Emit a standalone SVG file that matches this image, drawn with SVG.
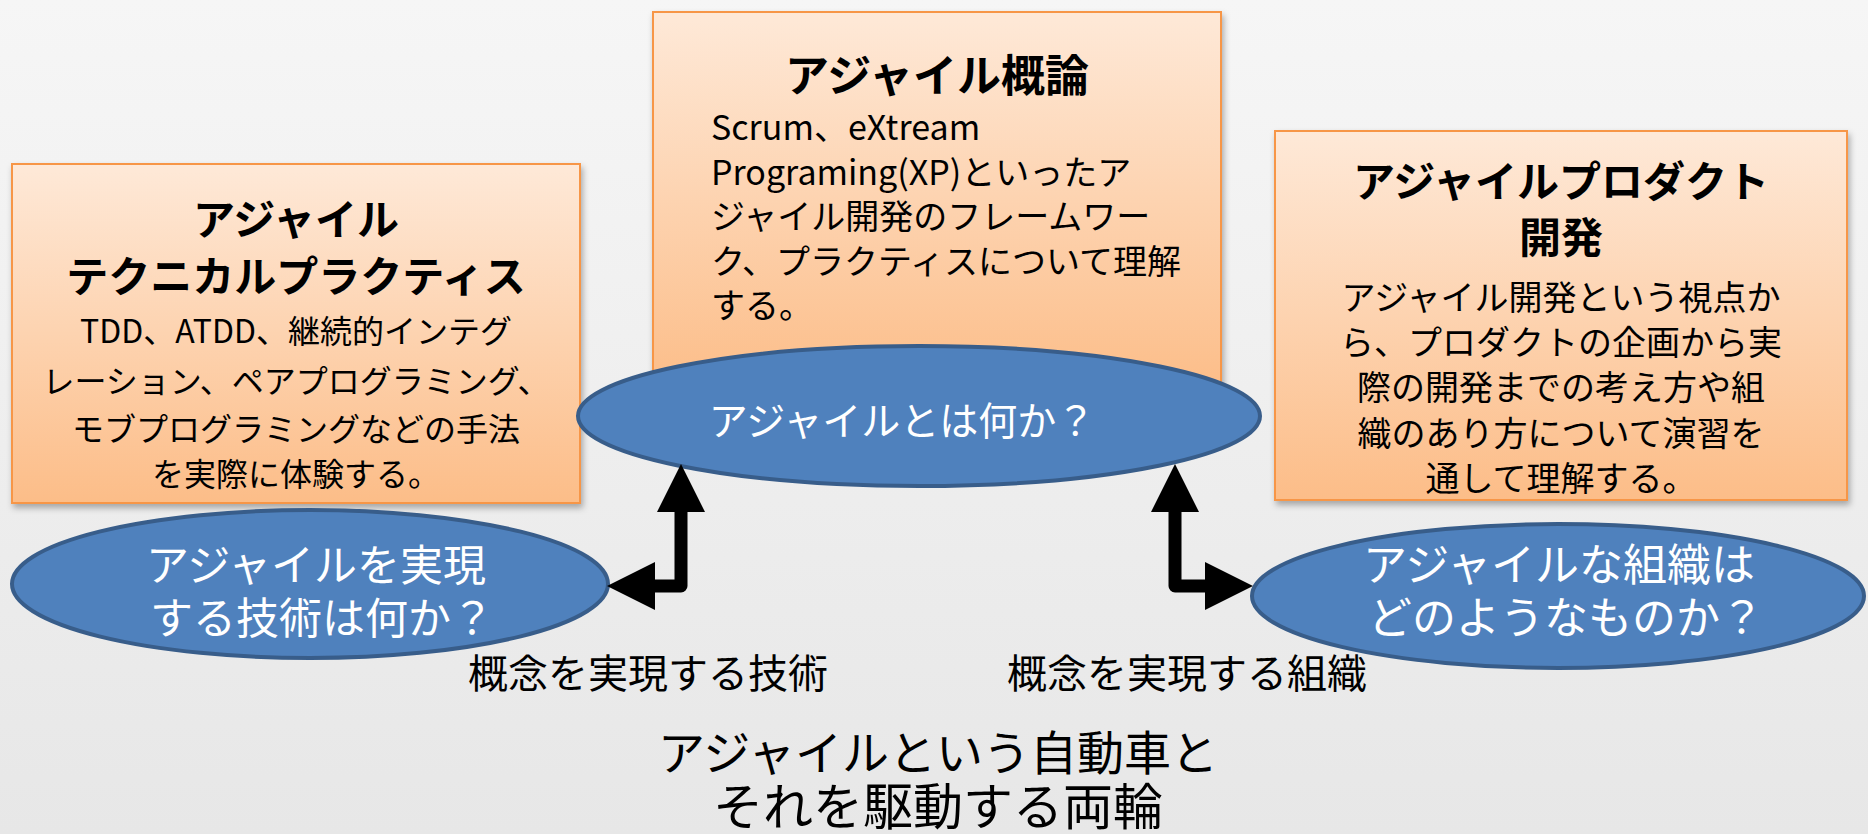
<svg xmlns="http://www.w3.org/2000/svg" width="1868" height="834" viewBox="0 0 1868 834">
<style>
text{font-family:"Noto Sans CJK JP","Noto Sans",sans-serif;}
.box{fill:url(#boxg);stroke:#f79646;stroke-width:2;filter:url(#sh);}
.ell{fill:#4f81bd;stroke:#385d8a;stroke-width:4;}
.ttl{font-weight:bold;font-size:42px;fill:#000;}
.body{font-size:32px;fill:#000;}
.wt{fill:#fff;}
.lbl{font-size:40px;fill:#000;}
.conn{fill:none;stroke:#000;stroke-width:13;stroke-linejoin:round;}
</style>
<defs>
<linearGradient id="bg" x1="0" y1="0" x2="0" y2="1">
<stop offset="0" stop-color="#f6f6f6"/><stop offset="1" stop-color="#e7e7e7"/>
</linearGradient>
<linearGradient id="boxg" x1="0" y1="0" x2="0" y2="1">
<stop offset="0" stop-color="#fee9d8"/><stop offset="1" stop-color="#fcbd88"/>
</linearGradient>
<filter id="sh" x="-5%" y="-5%" width="110%" height="115%">
<feDropShadow dx="2" dy="4" stdDeviation="3" flood-color="#000" flood-opacity="0.3"/>
</filter>
<marker id="ah" viewBox="0 0 48 48" markerWidth="48" markerHeight="48" refX="0" refY="24" orient="auto-start-reverse" markerUnits="userSpaceOnUse">
<path d="M0,0 L48,24 L0,48 Z" fill="#000"/>
</marker>
</defs>
<rect width="1868" height="834" fill="url(#bg)"/>

<g id="box-technical">
<rect class="box" x="12" y="164" width="568" height="339"/>
<text class="ttl" x="296" y="235" text-anchor="middle">アジャイル</text>
<text class="ttl" x="296" y="292" text-anchor="middle">テクニカルプラクティス</text>
<text class="body" x="296" y="343" text-anchor="middle">TDD、ATDD、継続的インテグ</text>
<text class="body" x="296" y="393" text-anchor="middle">レーション、ペアプログラミング、</text>
<text class="body" x="296" y="441" text-anchor="middle">モブプログラミングなどの手法</text>
<text class="body" x="296" y="486" text-anchor="middle">を実際に体験する。</text>
</g>

<g id="box-overview">
<rect class="box" x="653" y="12" width="568" height="380"/>
<text class="ttl" x="937" y="92" text-anchor="middle" style="font-size:44px">アジャイル概論</text>
<text class="body" x="711" y="140" style="font-size:34px">Scrum、eXtream</text>
<text class="body" x="711" y="185" style="font-size:34px">Programing(XP)といったア</text>
<text class="body" x="711" y="229" style="font-size:34px">ジャイル開発のフレームワー</text>
<text class="body" x="711" y="274" style="font-size:34px">ク、プラクティスについて理解</text>
<text class="body" x="711" y="318" style="font-size:34px">する。</text>
</g>

<g id="box-product">
<rect class="box" x="1275" y="131" width="572" height="369"/>
<text class="ttl" x="1561" y="197" text-anchor="middle">アジャイルプロダクト</text>
<text class="ttl" x="1561" y="253" text-anchor="middle">開発</text>
<text class="body" x="1561" y="310" text-anchor="middle" style="font-size:34px">アジャイル開発という視点か</text>
<text class="body" x="1561" y="355" text-anchor="middle" style="font-size:34px">ら、プロダクトの企画から実</text>
<text class="body" x="1561" y="400" text-anchor="middle" style="font-size:34px">際の開発までの考え方や組</text>
<text class="body" x="1561" y="446" text-anchor="middle" style="font-size:34px">織のあり方について演習を</text>
<text class="body" x="1561" y="491" text-anchor="middle" style="font-size:34px">通して理解する。</text>
</g>

<g id="ell-what">
<ellipse class="ell" cx="919" cy="416" rx="341" ry="70"/>
<text class="wt" x="902" y="435" text-anchor="middle" style="font-size:39px">アジャイルとは何か？</text>
</g>

<g id="ell-tech">
<ellipse class="ell" cx="310" cy="584" rx="298" ry="74"/>
<text class="wt" x="316" y="581" text-anchor="middle" style="font-size:43px">アジャイルを実現</text>
<text class="wt" x="322" y="634" text-anchor="middle" style="font-size:43px">する技術は何か？</text>
</g>

<g id="ell-org">
<ellipse class="ell" cx="1558" cy="596" rx="306" ry="72"/>
<text class="wt" x="1559" y="581" text-anchor="middle" style="font-size:44px">アジャイルな組織は</text>
<text class="wt" x="1566" y="634" text-anchor="middle" style="font-size:44px">どのようなものか？</text>
</g>

<g id="connectors">
<path class="conn" d="M681,512 L681,586 L655,586" marker-start="url(#ah)" marker-end="url(#ah)"/>
<path class="conn" d="M1175,512 L1175,586 L1205,586" marker-start="url(#ah)" marker-end="url(#ah)"/>
</g>

<g id="labels">
<text class="lbl" x="648" y="688" text-anchor="middle">概念を実現する技術</text>
<text class="lbl" x="1187" y="688" text-anchor="middle">概念を実現する組織</text>
<text class="lbl" x="938" y="770" text-anchor="middle" style="font-size:47px">アジャイルという自動車と</text>
<text class="lbl" x="938" y="825" text-anchor="middle" style="font-size:50px">それを駆動する両輪</text>
</g>
</svg>
